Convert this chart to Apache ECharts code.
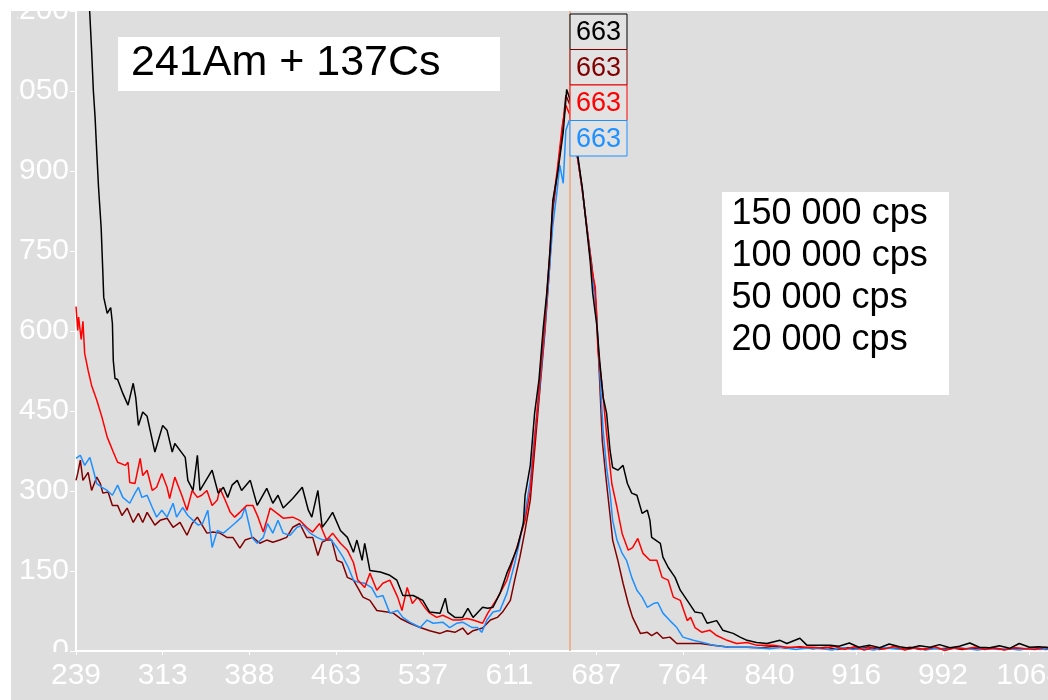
<!DOCTYPE html>
<html><head><meta charset="utf-8">
<script src="https://cdn.jsdelivr.net/npm/echarts@6/dist/echarts.min.js"></script>
<style>
html,body{margin:0;padding:0;background:#fff;width:1048px;height:700px;overflow:hidden}
#clip{position:absolute;left:11px;top:11px;width:1037px;height:689px;overflow:hidden;background:#dedede}
#chart{position:absolute;left:-40px;top:-40px;width:1120px;height:729px}
#maskL{position:absolute;left:0;top:0;width:6px;height:640px;background:#dedede;z-index:5}
#mask0{position:absolute;left:0;top:641px;width:58px;height:10px;background:#dedede;z-index:5}
</style></head><body>
<div id="clip"><div id="chart"></div><div id="maskL"></div><div id="mask0"></div></div>
<script>
// x axis: channel units, one tick every 100 channels, labelled with energy (keV)
const xTickLabels = ['239','313','388','463','537','611','687','764','840','916','992','1068'];
const yTicks = [0,150,300,450,600,750,900,1050,1200];
const peakChannel = 570;
const peakLabel = '663';
const seriesNames = ['150 000 cps','100 000 cps','50 000 cps','20 000 cps'];

const blackChan = [0,7,14,16,18,20,22,24,26,29,31,32,36,40,42,43,45,48,54,60,66,69,72,77,82,91,100,105,111,114,126,129,135,140,143,157,164,170,175,180,186,191,201,209,220,227,233,239,250,261,268,272,279,284,290,296,305,313,320,324,330,333,339,351,362,370,377,389,400,408,420,426,429,437,446,452,458,469,475,481,489,497,501,509,516,518,524,529,534,539,543,547,550,556,562,566,570,574,579,584,588,593,596,601,604,608,612,616,619,625,631,636,641,647,653,659,662,664,674,677,683,691,697,705,714,722,728,739,746,758,766,774,785,797,812,820,835,843,858,870,880,892,903,915,927,938,950,961,973,985,996,1008,1019,1031,1042,1054,1065,1077,1088,1100,1111,1123,1135];
const blackCounts = [1900,1500,1250,1192,1126,1051,1001,933,869,794,708,663,633,644,614,545,511,509,483,461,502,474,423,448,440,373,423,414,373,389,363,320,301,367,301,339,296,307,288,311,320,301,320,273,305,277,292,268,286,307,264,251,301,232,245,260,226,213,185,208,170,202,151,148,142,133,104,104,95,73,71,99,73,63,63,80,63,82,80,82,108,146,161,194,239,292,348,446,508,607,671,757,845,901,973,1053,1033,986,926,869,808,733,671,607,545,476,446,376,344,339,348,314,296,292,258,264,245,213,202,176,157,138,114,95,73,71,52,57,39,33,26,20,16,14,20,14,24,11,11,11,9,15,7,11,6,13,8,5,10,7,12,6,9,15,7,6,10,5,14,7,8,6,9];

const maroonChan = [0,2,5,8,14,18,24,28,31,37,42,48,53,59,66,72,77,82,91,97,105,112,120,128,134,140,151,158,166,174,181,189,195,204,212,220,227,235,243,250,258,266,273,279,284,289,295,301,307,313,320,325,331,339,347,359,366,374,385,397,408,420,428,437,446,452,458,469,478,486,492,501,506,512,518,524,529,535,541,546,550,555,561,565,570,574,579,584,589,595,600,604,607,611,616,619,625,631,637,642,651,659,664,670,677,685,693,705,720,735,754,774,790,806,820,835,850,865,878,890,902,914,926,938,950,962,974,986,998,1010,1022,1034,1046,1058,1070,1082,1094,1106,1118,1135];
const maroonCounts = [320,333,358,320,335,301,326,314,296,298,273,273,254,268,241,258,241,260,236,245,249,232,241,217,239,251,221,223,221,213,213,193,208,213,202,208,204,208,213,232,239,213,213,179,204,208,208,170,166,138,133,119,101,95,76,73,71,61,52,44,38,33,38,35,43,31,38,43,58,63,73,95,133,176,226,283,376,489,601,714,826,892,976,1042,1023,976,920,864,798,723,648,507,395,329,255,208,170,127,89,63,33,35,29,35,24,26,14,14,14,11,7,7,6,9,5,8,4,7,3,6,4,8,3,6,4,7,3,5,4,6,3,5,4,6,3,5,4,6,3,5];

const redChan = [0,2,3,6,8,10,14,18,24,30,36,43,48,57,60,62,68,74,77,82,88,93,99,105,108,114,122,128,134,140,145,151,157,163,166,172,178,183,189,197,204,210,216,220,224,232,239,250,258,266,273,281,289,296,305,313,320,325,333,339,347,354,362,371,376,382,388,394,403,408,416,423,435,443,451,458,469,475,486,491,497,504,512,518,524,529,535,541,546,550,555,561,565,570,574,579,584,589,595,599,602,607,612,618,624,630,637,642,648,654,662,670,676,683,689,697,705,709,714,722,731,739,751,762,774,785,804,820,850,862,874,886,898,909,921,933,944,956,968,979,991,1002,1014,1025,1037,1048,1060,1071,1083,1095,1106,1118,1135];
const redCounts = [646,601,626,584,618,558,526,498,470,438,401,373,354,348,354,316,314,361,329,339,301,307,333,307,286,326,292,264,301,288,292,301,273,283,305,283,260,251,260,273,273,251,223,245,268,258,249,251,245,232,223,239,208,221,202,189,166,133,119,146,114,127,133,101,76,119,89,101,80,71,63,67,58,58,61,58,52,71,99,114,133,170,213,245,301,395,508,620,733,836,901,986,1023,1004,976,920,864,798,714,682,564,494,408,314,269,220,189,194,211,183,170,170,138,133,101,95,57,63,44,35,39,29,20,14,16,11,11,7,7,5,9,3,8,2,7,4,9,2,6,3,8,1,6,4,7,3,5,2,6,4,3,7,4];

const blueChan = [0,5,10,16,20,24,30,36,42,48,54,62,68,72,76,82,88,93,99,105,112,116,123,129,135,141,146,152,157,163,170,178,183,191,195,203,209,216,221,227,233,239,247,255,262,270,278,285,293,301,308,314,320,325,333,341,347,354,362,371,377,385,397,405,412,423,431,439,446,457,463,468,474,481,489,497,501,506,512,518,524,529,535,541,546,550,555,558,562,565,569,574,579,584,589,595,600,604,608,612,616,619,624,630,635,641,647,653,659,666,671,677,685,693,700,712,723,735,754,774,785,800,815,830,845,860,872,884,896,908,920,932,944,956,968,980,992,1004,1016,1028,1040,1052,1064,1076,1088,1100,1112,1124,1135];
const blueCounts = [361,367,348,363,339,314,307,301,292,311,288,277,296,307,288,292,269,251,264,251,277,251,269,254,245,236,239,264,194,226,221,232,239,251,269,213,202,213,239,221,245,221,217,232,236,221,213,208,211,194,176,157,133,129,127,119,101,104,71,76,63,54,44,58,52,54,44,52,54,44,44,35,58,73,76,108,133,164,208,258,320,404,498,611,714,798,864,911,877,976,995,957,920,864,798,714,639,526,414,344,296,245,208,183,170,138,114,101,82,89,91,71,57,44,26,20,16,11,7,7,6,4,7,3,6,4,2,6,3,5,2,6,4,3,6,2,5,3,6,4,2,5,3,4,2,5,3,4,3];

const seriesColors = ['#000000','#800000','#ff0000','#1e90ff'];

function zip(xs, ys){ return xs.map((x,i)=>[x, ys[i]]); }

const chart = echarts.init(document.getElementById('chart'), null, {renderer:'canvas'});
const FONT = '"Liberation Sans", Arial, sans-serif';

function mkSeries(name, chan, counts, color, z, extra){
  return Object.assign({
    name: name, type:'line', data: zip(chan, counts), showSymbol:false, symbol:'none',
    lineStyle:{color:color, width:1.5}, itemStyle:{color:color}, z:z, clip:true, silent:true
  }, extra||{});
}

const boxTop = 43, boxH = 35.5, boxX = 599, boxW = 57;
const peakBoxes = [];
seriesColors.forEach((c,i)=>{
  peakBoxes.push({type:'rect', shape:{x:boxX, y:boxTop+i*boxH, width:boxW, height:boxH},
    style:{fill:'#e2e2e2', stroke:c, lineWidth:1}, z:100});
  peakBoxes.push({type:'text', x:boxX+boxW/2, y:boxTop+i*boxH+boxH/2+1,
    style:{text:peakLabel, fill:c, font:'27px "Liberation Sans", Arial, sans-serif', align:'center', verticalAlign:'middle'}, z:101});
});

const legendTexts = seriesNames.map((n,i)=>({type:'text', x:760.5, y:243+i*42,
  style:{text:n, fill:'#000', font:'36px '+FONT, verticalAlign:'middle'}, z:101}));

chart.setOption({
  animation:false,
  backgroundColor:'#dedede',
  grid:{left:105, top:40, width:984, height:640, containLabel:false, outerBoundsMode:'none'},
  xAxis:{type:'value', min:0, max:1135, interval:100,
    axisLine:{show:true, onZero:false, lineStyle:{color:'#ffffff', width:2}},
    axisTick:{show:true, length:4, lineStyle:{color:'#ffffff', width:1}},
    splitLine:{show:false},
    axisLabel:{color:'#ffffff', fontSize:30, fontFamily:FONT, margin:10, showMaxLabel:false,
      formatter:(v)=> (v % 100 === 0 && xTickLabels[v/100] !== undefined) ? xTickLabels[v/100] : ''}
  },
  yAxis:{type:'value', min:yTicks[0], max:yTicks[yTicks.length-1], interval:yTicks[1]-yTicks[0],
    axisLine:{show:true, lineStyle:{color:'#ffffff', width:2}},
    axisTick:{show:true, length:6, lineStyle:{color:'#ffffff', width:1}},
    splitLine:{show:false},
    axisLabel:{color:'#ffffff', fontSize:30, fontFamily:FONT, margin:7, formatter:(v)=>String(v)}
  },
  series:[
    mkSeries(seriesNames[1], maroonChan, maroonCounts, seriesColors[1], 2, {
      markLine:{silent:true, symbol:['none','none'], label:{show:false},
        lineStyle:{color:'#eea57a', width:1.5, type:'solid'}, data:[{xAxis:peakChannel}]}
    }),
    mkSeries(seriesNames[3], blueChan, blueCounts, seriesColors[3], 3),
    mkSeries(seriesNames[2], redChan, redCounts, seriesColors[2], 4),
    mkSeries(seriesNames[0], blackChan, blackCounts, seriesColors[0], 5)
  ],
  graphic:[
    {type:'rect', shape:{x:147, y:66, width:382, height:54}, style:{fill:'#ffffff'}, z:100},
    {type:'text', x:160, y:92, style:{text:'241Am + 137Cs', fill:'#000', font:'43px '+FONT, verticalAlign:'middle'}, z:101},
    {type:'rect', shape:{x:751, y:221, width:227, height:203}, style:{fill:'#ffffff'}, z:100}
  ].concat(legendTexts).concat(peakBoxes)
});
</script>
</body></html>
